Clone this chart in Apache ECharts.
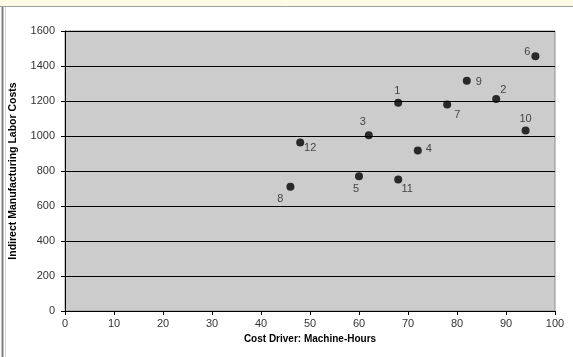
<!DOCTYPE html>
<html><head><meta charset="utf-8">
<script src="https://cdn.jsdelivr.net/npm/echarts@6/dist/echarts.min.js"></script>
<style>html,body{margin:0;padding:0;background:#fff}#c{width:573px;height:357px}</style>
</head><body><div id="c"></div>
<script>
const weeks = ['1','2','3','4','5','6','7','8','9','10','11','12'];
const machineHours = [68, 88, 62, 72, 60, 96, 78, 46, 82, 94, 68, 48];
const laborCosts = [1190, 1211, 1004, 917, 770, 1456, 1180, 710, 1316, 1032, 752, 963];
const labelOffsets = [[-1,-12],[7,-9],[-6,-13],[11,-2],[-3,13],[-8,-4],[10,10],[-10,12],[12,1],[0,-11],[9,10],[10,5]];

const chart = echarts.init(document.getElementById('c'), null, {renderer:'canvas'});
const data = weeks.map((w,i)=>({
  value:[machineHours[i], laborCosts[i]],
  name:w,
  label:{offset:labelOffsets[i]}
}));
chart.setOption({
  animation:false,
  backgroundColor:'#ffffff',
  graphic:[
    {type:'rect', shape:{x:0,y:0,width:573,height:6}, style:{fill:'#fdfbe3'}, z:-1},
    {type:'line', shape:{x1:0,y1:6.5,x2:573,y2:6.5}, style:{stroke:'#a0a0a0',lineWidth:1}},
    {type:'line', shape:{x1:2.5,y1:7,x2:2.5,y2:357}, style:{stroke:'#808080',lineWidth:2}},
    {type:'line', shape:{x1:5.5,y1:7,x2:5.5,y2:357}, style:{stroke:'#d8d8d8',lineWidth:1}}
  ],
  grid:{left:63, right:18, top:31, bottom:46, show:true, backgroundColor:'#cccccc', borderColor:'#909090', borderWidth:1},
  xAxis:{
    type:'value', min:0, max:100, interval:10,
    name:'Cost Driver: Machine-Hours', nameLocation:'middle', nameGap:22,
    nameTextStyle:{fontFamily:'Liberation Sans, Arial', fontWeight:'bold', fontSize:10, color:'#000'},
    axisLine:{show:true, onZero:false, lineStyle:{color:'#000', width:1}},
    axisTick:{show:true, inside:false, length:4, lineStyle:{color:'#000'}},
    axisLabel:{fontFamily:'Liberation Sans, Arial', fontSize:11, color:'#333', margin:7, formatter:v=>String(v)},
    splitLine:{show:false}
  },
  yAxis:{
    type:'value', min:0, max:1600, interval:200,
    name:'Indirect Manufacturing Labor Costs', nameLocation:'middle', nameGap:46,
    nameTextStyle:{fontFamily:'Liberation Sans, Arial', fontWeight:'bold', fontSize:10.5, color:'#000'},
    axisLine:{show:true, onZero:false, lineStyle:{color:'#000', width:1}},
    axisTick:{show:true, inside:false, length:4, lineStyle:{color:'#000'}},
    axisLabel:{fontFamily:'Liberation Sans, Arial', fontSize:11, color:'#333', margin:10, formatter:v=>String(v)},
    splitLine:{show:true, lineStyle:{color:'#000', width:1}}
  },
  series:[{
    type:'scatter',
    data:data,
    symbol:'circle', symbolSize:8,
    itemStyle:{color:'#000'},
    label:{show:true, position:'inside', formatter:'{b}', fontFamily:'Liberation Sans, Arial', fontSize:11, color:'#222', align:'center', verticalAlign:'middle'}
  }]
});
</script></body></html>
